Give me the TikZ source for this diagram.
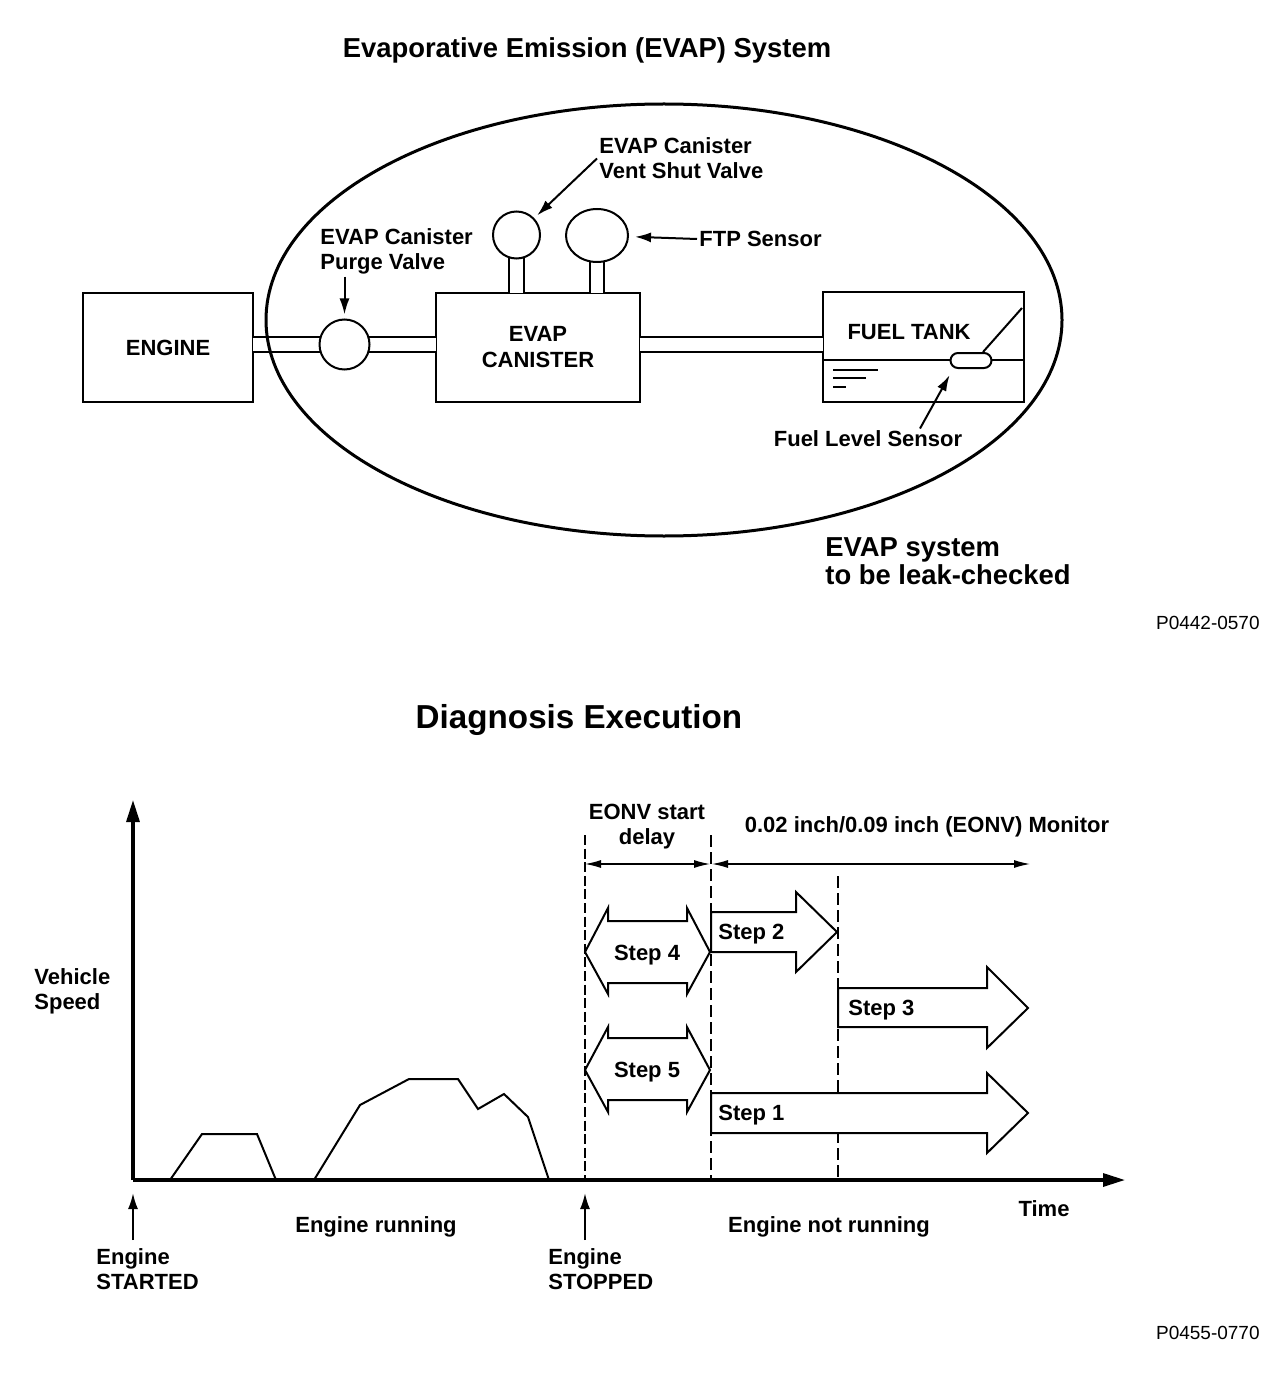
\documentclass[tikz,border=0pt]{standalone}
\usepackage{fontspec}
\setmainfont{Liberation Sans}
\usepackage{tikz}
\usetikzlibrary{arrows.meta}
\usetikzlibrary{shapes.geometric}
\usetikzlibrary{shapes.misc}
\newcommand{\lblfont}{\bfseries\fontsize{11}{12.5}\selectfont}
\newcommand{\ttlfont}{\bfseries\fontsize{13.7}{14}\selectfont}
\tikzset{
	lbl/.style={font=\lblfont, align=left, inner sep=1pt, yshift=-1pt},
	box/.style={draw, line width=1pt, font=\lblfont, align=center, inner sep=0pt},
	valve/.style={draw, line width=1pt, fill=white, inner sep=0pt},
	pipe/.style={line width=1pt, double=white, double distance=6.3pt},
	lead/.style={line width=1pt, -{Latex[length=8pt,width=5pt]}},
	axis/.style={line width=1.6pt, -{Triangle[length=11pt,width=6.5pt]}},
	dim/.style={line width=0.6pt, {Latex[length=8pt,width=4pt]}-{Latex[length=8pt,width=4pt]}},
	stepshape/.style={draw, line width=1pt, fill=white, line join=miter},
	delayline/.style={line width=0.6pt, dash pattern=on 5pt off 1.8pt},
	stepline/.style={line width=1pt, dash pattern=on 6pt off 2.5pt},
	code/.style={font=\fontsize{9.5}{11}\selectfont, inner sep=0pt}
}

\begin{document}
\begin{tikzpicture}[x=0.5pt,y=-0.5pt]
	\useasboundingbox (0,0) rectangle (1280,1374);

	\node[font=\ttlfont] (title1) at (587,50.5) {Evaporative Emission (EVAP) System};

	\node[box, minimum width=85pt, minimum height=54.5pt] (engine) at (168,347.5) {ENGINE};
	\node[box, minimum width=102pt, minimum height=54.5pt] (canister) at (538,347.5) {EVAP\\[0.5pt]CANISTER};
	\node[box, minimum width=100.5pt, minimum height=55pt] (tank) at (923.5,347) {};
	\node[lbl] (tanktext) at (909,330) {FUEL TANK};

	\coordinate (purgec) at (344.5,344.5);
	\coordinate (ventc) at (516.5,235);
	\coordinate (ftpc) at (597,235.5);

	\draw[pipe] ([xshift=-0.6pt]engine.east |- purgec) -- (purgec) -- ([xshift=0.6pt]canister.west |- purgec);
	\draw[pipe] ([xshift=-0.6pt]canister.east |- purgec) -- ([xshift=0.6pt]tank.west |- purgec);
	\draw[pipe] (ventc) -- ([yshift=-0.6pt]canister.north -| ventc);
	\draw[pipe] (ftpc) -- ([yshift=-0.6pt]canister.north -| ftpc);

	\node[valve, circle, minimum size=25pt] (purge) at (purgec) {};
	\node[valve, circle, minimum size=23.5pt] (vent) at (ventc) {};
	\node[valve, ellipse, minimum width=31pt, minimum height=26.5pt] (ftp) at (ftpc) {};

	\draw[line width=0.6pt] ([yshift=-6.5pt]tank.west) -- ([yshift=-6.5pt]tank.east);
	\draw[line width=0.8pt] (833,370) -- (878,370);
	\draw[line width=0.8pt] (833,378) -- (866,378);
	\draw[line width=0.8pt] (833,387) -- (846,387);
	\node[valve, rounded rectangle, minimum width=20.5pt, minimum height=7.5pt] (float) at (971,360.5) {};
	\draw[line width=1pt] ([xshift=6pt]float.north) -- (1022,308);

	\draw[line width=1.5pt] (664,320) ellipse [x radius=398, y radius=216];

	\node[lbl, anchor=west] (lvent) at (597,156.5) {EVAP Canister\\Vent Shut Valve};
	\node[lbl, anchor=west] (lftp) at (697,237) {FTP Sensor};
	\node[lbl, anchor=west] (lpurge) at (318,249.5) {EVAP Canister\\Purge Valve};
	\node[lbl] (llevel) at (868,437) {Fuel Level Sensor};
	\draw[lead, shorten >=2pt] (lvent.west) -- (vent);
	\draw[lead, shorten >=3pt] (lftp.west) -- (ftp);
	\draw[lead, shorten >=2pt] (purge |- lpurge.south) -- (purge);
	\draw[lead, shorten >=3.5pt] ([xshift=26pt]llevel.north) -- ([xshift=-9pt]float.south);

	\node[font=\ttlfont, align=left, anchor=west, inner sep=0pt] (leak) at (825,561.5) {EVAP system\\to be leak-checked};
	\node[code, anchor=east] (code1) at (1260,623) {P0442-0570};

	\node[font=\bfseries\fontsize{16.6}{18}\selectfont] (title2) at (579,720) {Diagnosis Execution};

	\coordinate (origin) at (133,1180);
	\coordinate (ytip) at (133,800);
	\coordinate (xtip) at (1125,1180);
	\draw[axis] (origin) -- (ytip);
	\draw[axis] (origin) -- (xtip);
	\draw[line width=1pt, line join=miter] (170,1180) -- (202,1134) -- (257,1134) -- (276,1180)
		(314,1180) -- (360,1105) -- (409,1079) -- (458,1079) -- (478,1109) -- (504,1094) -- (528,1117) -- (549,1180);

	\draw[delayline] (585,835) -- (585,1180);
	\draw[stepline] (711,835) -- (711,1180);
	\draw[stepline] (838,876) -- (838,1180);
	\draw[dim] (585,864) -- (710,864);
	\draw[dim] (712,864) -- (1030,864);

	\draw[stepshape] (585,952) -- (608,908) -- (608,921) -- (687,921) -- (687,908) -- (710,952)
		-- (687,994) -- (687,983) -- (608,983) -- (608,994) -- cycle;
	\draw[stepshape] (585,1070) -- (608,1027) -- (608,1038) -- (687,1038) -- (687,1027) -- (710,1070)
		-- (687,1112) -- (687,1100) -- (608,1100) -- (608,1112) -- cycle;
	\draw[stepshape] (711,912) -- (796,912) -- (796,892) -- (837,932) -- (796,972) -- (796,952) -- (711,952) -- cycle;
	\draw[stepshape] (838,988) -- (987,988) -- (987,967) -- (1028,1008) -- (987,1048) -- (987,1027) -- (838,1027) -- cycle;
	\draw[stepshape] (711,1093) -- (987,1093) -- (987,1073) -- (1028,1113) -- (987,1153) -- (987,1133) -- (711,1133) -- cycle;

	\node[lbl] (step4) at (647,953) {Step 4};
	\node[lbl] (step5) at (647,1070) {Step 5};
	\node[lbl, anchor=west] (step2) at (716,932) {Step 2};
	\node[lbl, anchor=west] (step3) at (846,1008) {Step 3};
	\node[lbl, anchor=west] (step1) at (716,1113) {Step 1};

	\node[lbl, align=center] (delaytext) at (647,825) {EONV start\\delay};
	\node[lbl] (monitor) at (927,825) {0.02 inch/0.09 inch (EONV) Monitor};

	\node[lbl, anchor=west] (speed) at (32,989.5) {Vehicle\\Speed};
	\node[lbl] (time) at (1044,1207) {Time};
	\node[lbl] (running) at (376,1225) {Engine running};
	\node[lbl] (notrunning) at (829,1225) {Engine not running};
	\node[lbl, anchor=west] (started) at (94,1267.5) {Engine\\STARTED};
	\node[lbl, anchor=west] (stopped) at (546,1267.5) {Engine\\STOPPED};
	\draw[lead, shorten >=6.5pt] (origin |- 0,1240) -- (origin);
	\draw[lead, shorten >=6.5pt] (585,1240) -- (585,1180);

	\node[code, anchor=east] (code2) at (1260,1333) {P0455-0770};
\end{tikzpicture}
\end{document}
